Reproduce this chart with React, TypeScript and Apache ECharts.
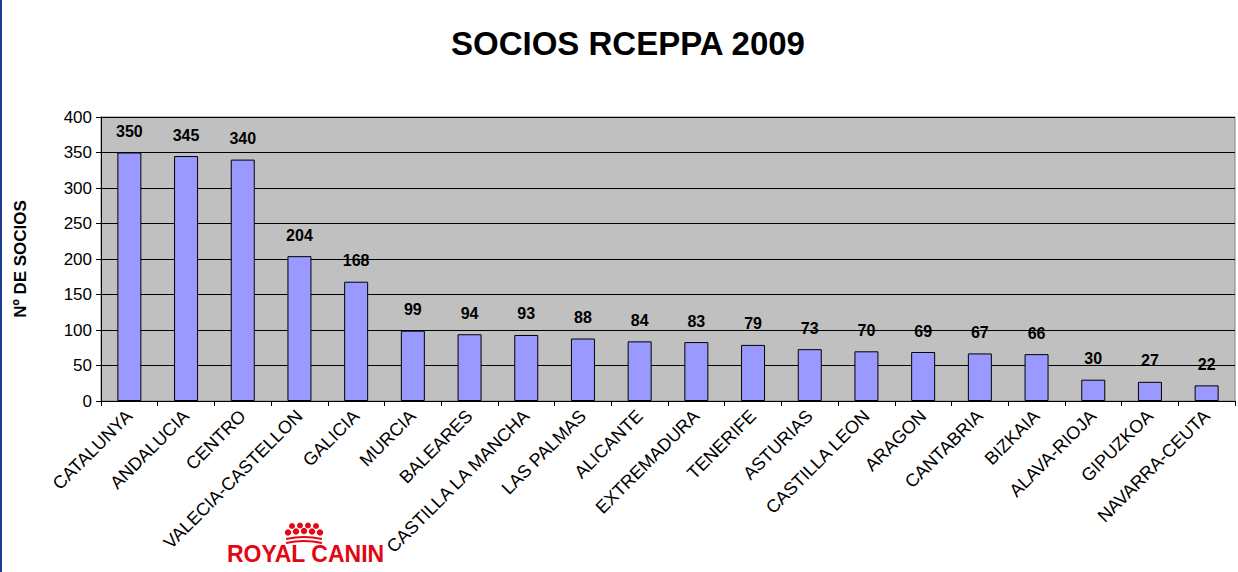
import React, { useEffect, useRef } from "react";
import * as echarts from "echarts";

const categories = [
  "CATALUNYA", "ANDALUCIA", "CENTRO", "VALECIA-CASTELLON", "GALICIA", "MURCIA",
  "BALEARES", "CASTILLA LA MANCHA", "LAS PALMAS", "ALICANTE", "EXTREMADURA",
  "TENERIFE", "ASTURIAS", "CASTILLA LEON", "ARAGON", "CANTABRIA", "BIZKAIA",
  "ALAVA-RIOJA", "GIPUZKOA", "NAVARRA-CEUTA",
];
const socios = [350, 345, 340, 204, 168, 99, 94, 93, 88, 84, 83, 79, 73, 70, 69, 67, 66, 30, 27, 22];
const titleText = "SOCIOS RCEPPA 2009";
const yAxisName = "Nº DE SOCIOS";

export default function App() {
  const ref = useRef<HTMLDivElement>(null);
  useEffect(() => {
    if (!ref.current) return;
    const chart = echarts.init(ref.current, null, { renderer: "svg" });
    const red = "#E30613";
    const row1 = [[292, 526], [300, 525.5], [308, 525.5], [316, 526]];
    const row2 = [[288, 532.5], [296, 531.5], [304, 531], [312, 531.5], [320, 532.5]];
    chart.setOption({
      animation: false,
      backgroundColor: "#ffffff",
      title: {
        text: titleText,
        left: 623,
        textAlign: "center",
        top: 22,
        textStyle: { fontFamily: "Liberation Sans, Arial, sans-serif", fontSize: 33, fontWeight: "bold", color: "#000" },
      },
      grid: {
        left: 101, right: 3, top: 117, bottom: 171,
        show: true, backgroundColor: "#C0C0C0", borderColor: "#808080", borderWidth: 1,
      },
      xAxis: {
        type: "category",
        data: categories,
        axisLine: { lineStyle: { color: "#000", width: 1 } },
        axisTick: { show: true, length: 5, lineStyle: { color: "#000" } },
        axisLabel: {
          rotate: 45, interval: 0, margin: 12,
          fontFamily: "Liberation Sans, Arial, sans-serif", fontSize: 18, color: "#000",
        },
      },
      yAxis: {
        type: "value", min: 0, max: 400, interval: 50,
        name: yAxisName,
        nameLocation: "middle",
        nameGap: 72,
        nameRotate: 90,
        nameTextStyle: { fontFamily: "Liberation Sans, Arial, sans-serif", fontSize: 17, fontWeight: "bold", color: "#000" },
        axisLine: { show: true, lineStyle: { color: "#000", width: 1 } },
        axisTick: { show: true, length: 5, lineStyle: { color: "#000" } },
        axisLabel: { fontFamily: "Liberation Sans, Arial, sans-serif", fontSize: 17, color: "#000", margin: 9 },
        splitLine: { lineStyle: { color: "#000", width: 1 } },
      },
      series: [
        {
          type: "bar",
          data: socios,
          barWidth: 24,
          itemStyle: { color: "#9999FF", borderColor: "#000", borderWidth: 1 },
          label: {
            show: true, position: "top", distance: 13,
            fontFamily: "Liberation Sans, Arial, sans-serif", fontSize: 16, fontWeight: "bold", color: "#000",
          },
        },
      ],
      graphic: [
        { type: "rect", left: 0, top: 0, shape: { x: 0, y: 0, width: 2, height: 572 }, style: { fill: "#1F3A93" } },
        ...row1.map(([cx, cy]) => ({ type: "circle", shape: { cx, cy, r: 3 }, style: { fill: red } })),
        ...row2.map(([cx, cy]) => ({ type: "circle", shape: { cx, cy, r: 3.2 }, style: { fill: red } })),
        { type: "arc", shape: { cx: 304, cy: 619, r: 82, startAngle: -Math.PI / 2 - 0.22, endAngle: -Math.PI / 2 + 0.22, clockwise: true }, style: { stroke: red, lineWidth: 2, fill: null } },
        { type: "arc", shape: { cx: 304, cy: 623, r: 82, startAngle: -Math.PI / 2 - 0.22, endAngle: -Math.PI / 2 + 0.22, clockwise: true }, style: { stroke: red, lineWidth: 2, fill: null } },
        {
          type: "text", left: 227, top: 542,
          style: { text: "ROYAL CANIN", fill: red, font: "bold 23px 'Liberation Sans', Arial, sans-serif" },
        },
      ],
    });
    return () => chart.dispose();
  }, []);
  return <div ref={ref} style={{ position: "absolute", left: 0, top: 0, width: 1238, height: 572 }} />;
}
